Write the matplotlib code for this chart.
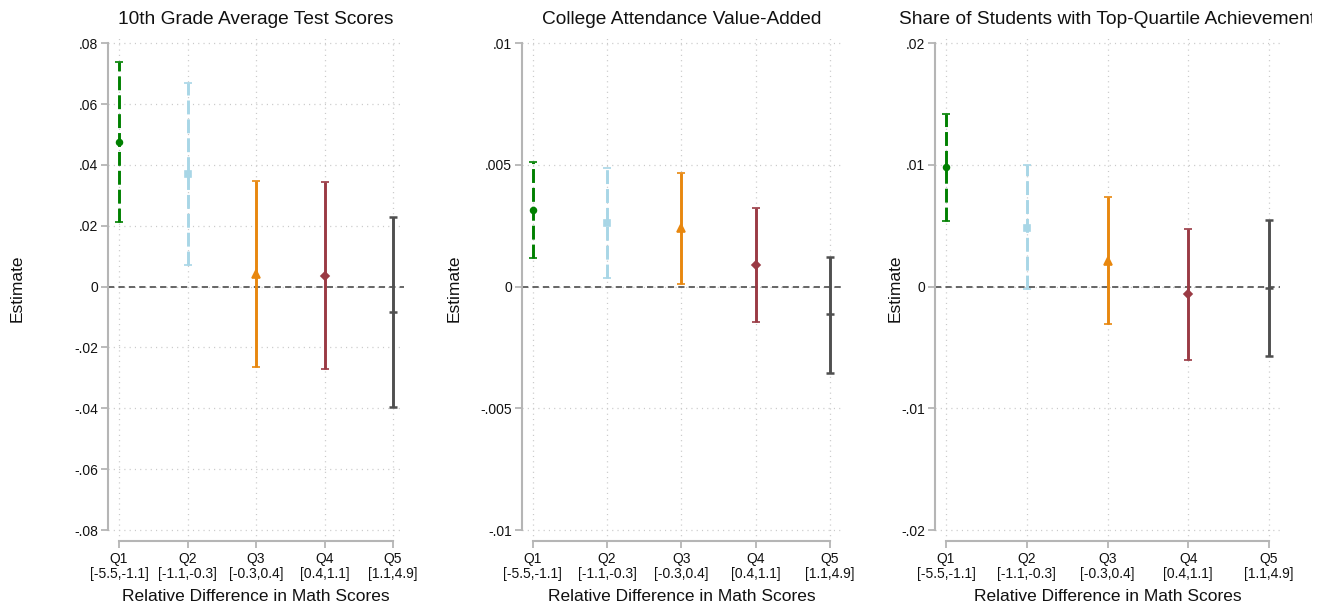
import matplotlib
matplotlib.use("Agg")
import matplotlib.pyplot as plt
from matplotlib.patches import Rectangle

plt.rcParams['font.family'] = ['Liberation Sans', 'DejaVu Sans']
plt.rcParams['lines.scale_dashes'] = False

# ---------------- data ----------------
quintiles = ["Q1", "Q2", "Q3", "Q4", "Q5"]
ranges = ["[-5.5,-1.1]", "[-1.1,-0.3]", "[-0.3,0.4]", "[0.4,1.1]", "[1.1,4.9]"]

titles = ["10th Grade Average Test Scores",
          "College Attendance Value-Added",
          "Share of Students with Top-Quartile Achievement"]

test_est = [0.0477, 0.0371, 0.0041, 0.0035, -0.0084]
test_lo = [0.0214, 0.0071, -0.0265, -0.0272, -0.0397]
test_hi = [0.0740, 0.0669, 0.0346, 0.0345, 0.0230]

coll_est = [0.00316, 0.00261, 0.00240, 0.00089, -0.00114]
coll_lo = [0.00117, 0.00034, 0.00011, -0.00145, -0.00354]
coll_hi = [0.00512, 0.00487, 0.00469, 0.00323, 0.00123]

top_est = [0.0098, 0.00486, 0.00214, -0.0006, -0.0001]
top_lo = [0.0054, -0.0002, -0.0031, -0.00603, -0.0057]
top_hi = [0.01421, 0.00996, 0.00736, 0.00477, 0.00549]

y_ticks = [[-0.08, -0.06, -0.04, -0.02, 0, 0.02, 0.04, 0.06, 0.08],
           [-0.01, -0.005, 0, 0.005, 0.01],
           [-0.02, -0.01, 0, 0.01, 0.02]]
y_ticklabels = [["-.08", "-.06", "-.04", "-.02", "0", ".02", ".04", ".06", ".08"],
                ["-.01", "-.005", "0", ".005", ".01"],
                ["-.02", "-.01", "0", ".01", ".02"]]

# ---------------- styles ----------------
colors = ["#008000", "#a8d6e6", "#e8870e", "#9a3a44", "#4f4f4f"]
markers = ["o", "s", "^", "D", "_"]
msizes = [4.2, 4.2, 5.2, 4.2, 6]
lstyles = [(0, (10, 3.6)), (0, (10, 3.6)), "solid", "solid", "solid"]

W, H = 1330, 608
fig = plt.figure(figsize=(W / 100, H / 100), dpi=100)

# axes boxes in pixels: left, right
boxes = [(108, 404), (521.7, 841), (935, 1280)]
top_px, bot_px = 35, 541
tick_top_px, tick_bot_px = 43.3, 530
ylabel_x = [25, 462, 903]

series = [(test_est, test_lo, test_hi),
          (coll_est, coll_lo, coll_hi),
          (top_est, top_lo, top_hi)]

spine_col = "#b5b5b5"
grid_col = "#c9c9c9"

for k in range(3):
    l, r = boxes[k]
    ax = fig.add_axes([l / W, 1 - bot_px / H, (r - l) / W, (bot_px - top_px) / H])
    yt = y_ticks[k]
    ymax = yt[-1]
    upp = (2 * ymax) / (tick_bot_px - tick_top_px)  # units per px
    ax.set_ylim(-ymax - (bot_px - tick_bot_px) * upp, ymax + (tick_top_px - top_px) * upp)
    spacing = (r - l - 22) / 4
    m = 11 / spacing
    x = list(range(1, 6))
    ax.set_xlim(1 - m, 5 + m)

    # grid
    for yv in yt:
        ax.axhline(yv, color=grid_col, lw=0.9, ls=(0, (0.8, 3.0)), zorder=0)
    for xv in x:
        ax.axvline(xv, color=grid_col, lw=0.9, ls=(0, (0.8, 3.0)), zorder=0)
    ax.axhline(0, color="#5a5a5a", lw=1.3, ls=(0, (4.5, 3.0)), zorder=1)

    est, lo, hi = series[k]
    for i in range(5):
        eb = ax.errorbar([x[i]], [est[i]], yerr=[[est[i] - lo[i]], [hi[i] - est[i]]],
                         fmt=markers[i], color=colors[i], ms=msizes[i], mew=1.2 if i < 4 else 1.8,
                         elinewidth=2.1, capsize=3, capthick=2, zorder=3)
        eb[2][0].set_linestyle(lstyles[i])

    # spines
    for s in ["top", "right"]:
        ax.spines[s].set_visible(False)
    ax.spines["left"].set_bounds(-ymax, ymax)
    ax.spines["bottom"].set_bounds(1, 5)
    for s in ["left", "bottom"]:
        ax.spines[s].set_color(spine_col)
        ax.spines[s].set_linewidth(1.5)
    ax.set_yticks(yt)
    ax.set_yticklabels(y_ticklabels[k])
    ax.set_xticks(x)
    ax.set_xticklabels([q + "\n" + rg for q, rg in zip(quintiles, ranges)], linespacing=1.05)
    ax.tick_params(axis="both", colors=spine_col, labelcolor="#111111", labelsize=10,
                   length=5, width=1.3, direction="out")
    ax.tick_params(axis="x", pad=3)
    ax.tick_params(axis="y", pad=2)

    ax.set_xlabel("Relative Difference in Math Scores", fontsize=12.5, color="#111111", labelpad=6)
    ax.set_ylabel("Estimate", fontsize=12.5, color="#111111")
    ax.yaxis.set_label_coords((ylabel_x[k] - l) / (r - l), 0.5)

    ax.set_title(titles[k], fontsize=13.8, color="#111111", pad=8)

# the right-most title is cut off at the edge of its graph region in the original
fig.patches.append(Rectangle((1312 / W, 1 - 34 / H), (W - 1312) / W, 34 / H,
                             transform=fig.transFigure, facecolor="white",
                             edgecolor="none", zorder=10))

fig.savefig("out.png", dpi=100, facecolor="white")
